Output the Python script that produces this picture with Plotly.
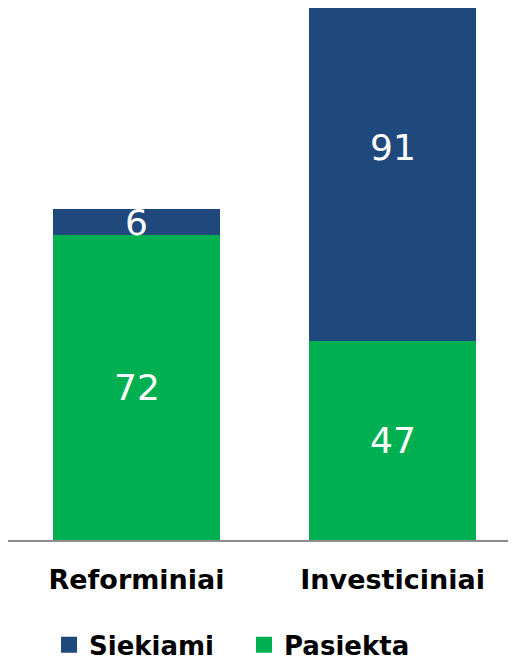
import plotly.graph_objects as go

categories = ["Reforminiai", "Investiciniai"]
pasiekta = [72, 47]
siekiami = [6, 91]

FONT = "DejaVu Sans"
GREEN = "#00B050"
BLUE = "#1F497D"

fig = go.Figure()
fig.add_trace(go.Bar(
    x=categories, y=pasiekta, name="Pasiekta",
    marker=dict(color=GREEN, line=dict(width=0)),
    width=0.652, showlegend=False,
))
fig.add_trace(go.Bar(
    x=categories, y=siekiami, name="Siekiami",
    marker=dict(color=BLUE, line=dict(width=0)),
    width=0.652, showlegend=False,
))
# legend entries with larger square swatches
fig.add_trace(go.Scatter(x=[None], y=[None], mode="markers", name="Pasiekta",
                         marker=dict(symbol="square", size=20, color=GREEN)))
fig.add_trace(go.Scatter(x=[None], y=[None], mode="markers", name="Siekiami",
                         marker=dict(symbol="square", size=20, color=BLUE)))

# value labels centred in each segment
for i, c in enumerate(categories):
    fig.add_annotation(x=c, y=pasiekta[i] / 2, text=str(pasiekta[i]),
                       showarrow=False,
                       font=dict(color="white", size=36, family=FONT))
    fig.add_annotation(x=c, y=pasiekta[i] + siekiami[i] / 2, text=str(siekiami[i]),
                       showarrow=False,
                       font=dict(color="white", size=36, family=FONT))

fig.update_layout(
    barmode="stack",
    width=516, height=661,
    margin=dict(l=0, r=0, t=0, b=129),
    paper_bgcolor="white", plot_bgcolor="white",
    font=dict(family=FONT, color="black"),
    showlegend=True,
    legend=dict(
        orientation="h", traceorder="reversed",
        x=41 / 516, xanchor="left", y=-0.197, yanchor="middle",
        font=dict(size=26, family=FONT, color="black", weight="bold"),
        itemwidth=30, entrywidth=150, entrywidthmode="pixels",
    ),
    xaxis=dict(
        range=[-0.502, 1.513],
        showline=True, linecolor="#8C8C8C", linewidth=2,
        ticks="", showgrid=False,
        tickfont=dict(size=27, family=FONT, color="black", weight="bold"),
        ticklabelstandoff=15,
    ),
    yaxis=dict(range=[0, 125.5], visible=False, showgrid=False),
    bargap=0,
)
fig.write_html("out.html")
